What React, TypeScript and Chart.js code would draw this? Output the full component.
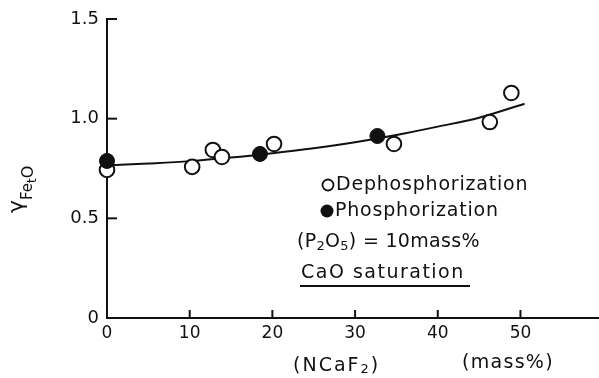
import { useEffect, useRef } from "react";
import { Chart, registerables } from "chart.js";

Chart.register(...registerables);

// ---- data ----
const openX = [0, 10.3, 12.8, 13.9, 20.2, 34.7, 46.3, 48.9];
const openY = [0.743, 0.758, 0.843, 0.808, 0.873, 0.873, 0.983, 1.129];
const filledX = [0, 18.5, 32.7];
const filledY = [0.788, 0.823, 0.913];
const curveX = [0, 5, 10, 15, 20, 25, 30, 35, 40, 45, 50.5];
const curveY = [0.765, 0.775, 0.787, 0.805, 0.827, 0.852, 0.882, 0.918, 0.96, 1.005, 1.075];
const xTicks = [0, 10, 20, 30, 40, 50];
const xTickLabels = ["0", "10", "20", "30", "40", "50"];
const xMax = 59.5;
const yTicks = [0, 0.5, 1.0, 1.5];
const yTickLabels = ["0", "0.5", "1.0", "1.5"];

const FONT = "'DejaVu Sans', sans-serif";
const INK = "#111";

const overlay = {
  id: "overlay",
  afterDraw(chart: any) {
    const ctx = chart.ctx as any;
    const xs = chart.scales.x;
    const ys = chart.scales.y;
    const { left, bottom } = chart.chartArea;
    ctx.save();
    ctx.strokeStyle = INK;
    ctx.fillStyle = INK;
    ctx.lineWidth = 2;
    // inward tick marks
    yTicks.forEach((v) => {
      if (v === 0) return;
      const py = ys.getPixelForValue(v);
      ctx.beginPath();
      ctx.moveTo(left, py);
      ctx.lineTo(left + 10, py);
      ctx.stroke();
    });
    xTicks.forEach((v) => {
      if (v === 0) return;
      const px = xs.getPixelForValue(v);
      ctx.beginPath();
      ctx.moveTo(px, bottom);
      ctx.lineTo(px, bottom - 8);
      ctx.stroke();
    });

    const seg = (parts: [string, number, number][], x: number, y: number, ls = 0) => {
      let cx = x;
      ctx.letterSpacing = `${ls}px`;
      parts.forEach(([t, size, dy]) => {
        ctx.font = `${size}px ${FONT}`;
        ctx.fillText(t, cx, y + dy);
        cx += ctx.measureText(t).width;
      });
      ctx.letterSpacing = "0px";
      return cx;
    };

    // y axis title (rotated)
    ctx.save();
    ctx.translate(23, 213);
    ctx.rotate(-Math.PI / 2);
    ctx.textBaseline = "alphabetic";
    ctx.textAlign = "left";
    seg(
      [
        ["γ", 22, 0],
        ["Fe", 15, 9],
        ["t", 12, 13],
        ["O", 16, 10],
      ],
      0,
      0
    );
    ctx.restore();

    // legend / annotations
    ctx.textBaseline = "middle";
    ctx.textAlign = "left";
    ctx.lineWidth = 1.8;
    ctx.beginPath();
    ctx.arc(328, 185, 5.5, 0, Math.PI * 2);
    ctx.stroke();
    seg([["Dephosphorization", 19, 0]], 336, 185, 0.8);
    ctx.beginPath();
    ctx.arc(327, 211, 6.5, 0, Math.PI * 2);
    ctx.fill();
    seg([["Phosphorization", 19, 0]], 335, 211, 0.8);

    seg(
      [
        ["(P", 19, 0],
        ["2", 13, 5],
        ["O", 19, 0],
        ["5", 13, 5],
        [") = 10mass%", 19, 0],
      ],
      297,
      242,
      0.3
    );

    seg([["CaO saturation", 19, 0]], 301, 273, 1.5);
    ctx.lineWidth = 2;
    ctx.beginPath();
    ctx.moveTo(300, 286);
    ctx.lineTo(470, 286);
    ctx.stroke();

    // x axis titles
    seg(
      [
        ["(NCaF", 19, 0],
        ["2", 13, 4],
        [")", 19, 0],
      ],
      293,
      366,
      2
    );
    seg([["(mass%)", 19, 0]], 462, 363, 1.3);
    ctx.restore();
  },
};

export default function App() {
  const ref = useRef<HTMLCanvasElement>(null);
  useEffect(() => {
    if (!ref.current) return;
    const chart = new Chart(ref.current, {
      type: "scatter",
      data: {
        datasets: [
          {
            type: "line",
            data: curveX.map((x, i) => ({ x, y: curveY[i] })),
            borderColor: INK,
            borderWidth: 2,
            pointRadius: 0,
            tension: 0.4,
            cubicInterpolationMode: "monotone",
            fill: false,
            order: 3,
          } as any,
          {
            data: openX.map((x, i) => ({ x, y: openY[i] })),
            pointRadius: 7.3,
            pointBackgroundColor: "#fff",
            pointBorderColor: INK,
            pointBorderWidth: 2,
            clip: false,
            order: 2,
          } as any,
          {
            data: filledX.map((x, i) => ({ x, y: filledY[i] })),
            pointRadius: 7.5,
            pointBackgroundColor: INK,
            pointBorderColor: INK,
            pointBorderWidth: 1,
            clip: false,
            order: 1,
          } as any,
        ],
      },
      options: {
        animation: false,
        responsive: false,
        devicePixelRatio: 1,
        layout: { autoPadding: false, padding: { top: 19, right: 0, left: 0, bottom: 0 } },
        plugins: { legend: { display: false }, tooltip: { enabled: false } },
        scales: {
          x: {
            type: "linear",
            min: 0,
            max: xMax,
            afterBuildTicks: (s: any) => {
              s.ticks = xTicks.map((v) => ({ value: v }));
            },
            afterFit: (s: any) => {
              s.height = 60;
            },
            ticks: {
              callback: (v: any) => xTickLabels[xTicks.indexOf(Number(v))] ?? "",
              font: { family: FONT, size: 17 },
              color: INK,
              padding: 5,
              maxRotation: 0,
              autoSkip: false,
            },
            grid: { display: false, drawTicks: false },
            border: { display: true, color: INK, width: 2 },
          },
          y: {
            type: "linear",
            min: 0,
            max: 1.5,
            afterBuildTicks: (s: any) => {
              s.ticks = yTicks.map((v) => ({ value: v }));
            },
            afterFit: (s: any) => {
              s.width = 107;
            },
            ticks: {
              callback: (v: any) => yTickLabels[yTicks.indexOf(Number(v))] ?? "",
              font: { family: FONT, size: 18 },
              color: INK,
              padding: 8,
            },
            grid: { display: false, drawTicks: false },
            border: { display: true, color: INK, width: 2 },
          },
        },
      } as any,
      plugins: [overlay],
    });
    return () => chart.destroy();
  }, []);
  return (
    <div style={{ position: "fixed", left: 0, top: 0, width: 599, height: 378, background: "#fff" }}>
      <canvas ref={ref} width={599} height={378} style={{ width: 599, height: 378, display: "block" }} />
    </div>
  );
}
